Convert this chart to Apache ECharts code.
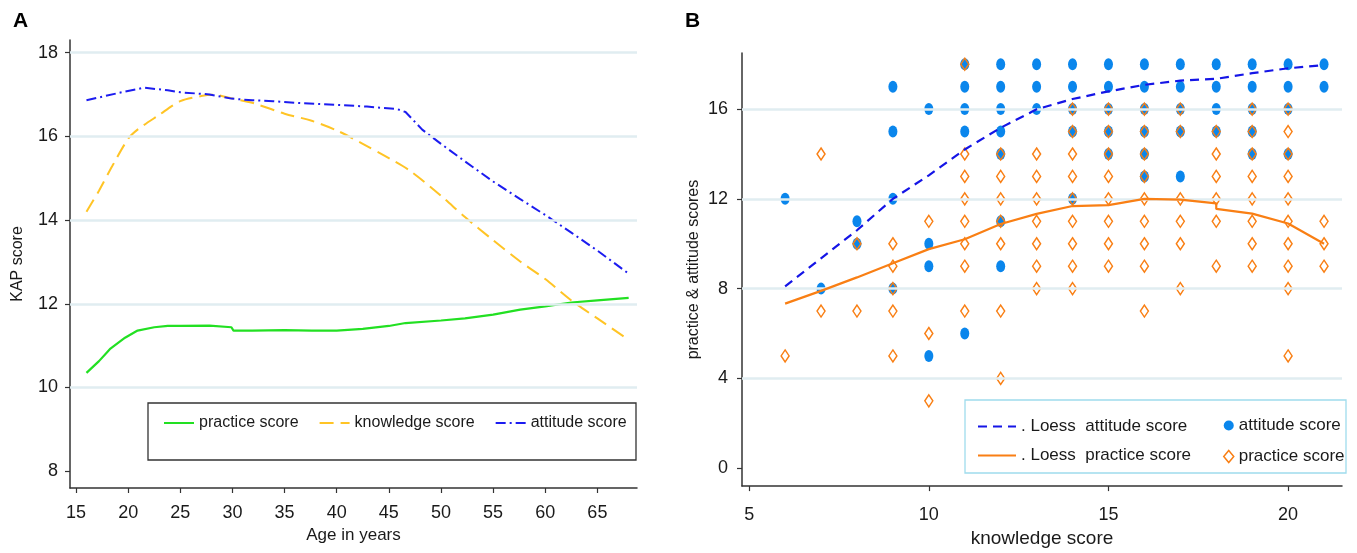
<!DOCTYPE html>
<html>
<head>
<meta charset="utf-8">
<script src="https://cdn.jsdelivr.net/npm/echarts@6/dist/echarts.min.js"></script>
<style>
  html, body { margin: 0; padding: 0; background: #fff; }
  #chart { width: 1357px; height: 553px; }
</style>
</head>
<body>
<div id="chart"></div>
<script>
// ---- Panel A: KAP score by age ----
const practiceAge = [16, 17.2, 18, 18.3, 19.7, 20.9, 22.5, 23.8, 25, 27.8, 29.9, 30.1, 31.9, 35, 37.6, 40, 42.5, 45, 46.6, 50, 52.3, 55, 57.6, 60, 62.5, 65, 68];
const practiceKAP = [10.35, 10.63, 10.85, 10.93, 11.19, 11.36, 11.44, 11.47, 11.47, 11.48, 11.44, 11.36, 11.36, 11.37, 11.36, 11.36, 11.4, 11.47, 11.54, 11.6, 11.65, 11.74, 11.86, 11.94, 12.03, 12.08, 12.14];
const knowledgeAge = [16, 17.2, 18.5, 20, 20.9, 22.9, 25, 27, 28.2, 30, 31.9, 35, 37.6, 40, 42.5, 45, 47, 50, 52.3, 55, 57.6, 60, 62.5, 65, 68];
const knowledgeKAP = [14.2, 14.7, 15.3, 15.94, 16.16, 16.5, 16.84, 16.96, 16.99, 16.9, 16.8, 16.54, 16.37, 16.14, 15.82, 15.48, 15.18, 14.58, 14.07, 13.52, 13.01, 12.59, 12.08, 11.65, 11.14];
const attitudeAge = [16, 19.7, 21.5, 23.8, 25, 27.8, 29.9, 31.9, 33.9, 36, 40, 42.9, 45.8, 46.6, 48.2, 50, 52.3, 55, 57.6, 60, 62.5, 65, 68];
const attitudeKAP = [16.86, 17.07, 17.16, 17.1, 17.05, 17.0, 16.9, 16.86, 16.84, 16.8, 16.75, 16.71, 16.65, 16.58, 16.16, 15.82, 15.4, 14.92, 14.5, 14.12, 13.7, 13.27, 12.72];
const ageTicks = [15, 20, 25, 30, 35, 40, 45, 50, 55, 60, 65];
const kapTicks = [8, 10, 12, 14, 16, 18];
const kapGrid = [10, 12, 14, 16, 18];

// ---- Panel B: practice & attitude vs knowledge ----
const loessX = [6, 7, 8, 9, 10, 11, 12, 13, 14, 15, 16, 17, 18, 19, 20, 21];
const loessAttitude = [8.1, 9.35, 10.6, 12.0, 13.05, 14.2, 15.17, 15.99, 16.45, 16.79, 17.08, 17.27, 17.35, 17.6, 17.82, 17.96];
const loessPracticeX = [6, 7, 8, 9, 10, 11, 12, 13, 14, 15, 16, 17, 18, 18, 19, 20, 21];
const loessPractice = [7.33, 7.9, 8.5, 9.13, 9.76, 10.2, 10.88, 11.33, 11.68, 11.72, 12.0, 11.97, 11.8, 11.55, 11.34, 10.9, 10.0];
// knowledge score -> observed scores at that knowledge score
const knowledgeCols = [6, 7, 8, 9, 10, 11, 12, 13, 14, 15, 16, 17, 18, 19, 20, 21];
const attitudeObs = [
  [12], [8], [11, 10], [17, 15, 12, 8], [16, 10, 9, 5], [18, 17, 16, 15, 6],
  [18, 17, 16, 15, 14, 11, 9], [18, 17, 16], [18, 17, 16, 15, 12], [18, 17, 16, 15, 14],
  [18, 17, 16, 15, 14, 13], [18, 17, 16, 15, 13], [18, 17, 16, 15], [18, 17, 16, 15, 14],
  [18, 17, 16, 14], [18, 17]
];
const practiceObs = [
  [5], [14, 7], [10, 7], [10, 9, 8, 7, 5], [11, 6, 3], [18, 14, 13, 12, 11, 10, 9, 7],
  [14, 13, 12, 11, 10, 7, 4], [14, 13, 12, 11, 10, 9, 8], [16, 15, 14, 13, 12, 11, 10, 9, 8],
  [16, 15, 14, 13, 12, 11, 10, 9], [16, 15, 14, 13, 12, 11, 10, 9, 7], [16, 15, 12, 11, 10, 8],
  [15, 14, 13, 12, 11, 9], [16, 15, 14, 13, 12, 11, 10, 9], [16, 15, 14, 13, 12, 11, 10, 9, 8, 5],
  [11, 10, 9]
];
const knowTicks = [5, 10, 15, 20];
const scoreTicks = [0, 4, 8, 12, 16];
const scoreGrid = [4, 8, 12, 16];

const pairs = (xs, ys) => xs.map((x, i) => [x, ys[i]]);
const flatten = (cols, obs) => cols.flatMap((x, i) => obs[i].map(v => [x, v]));

const SANS = '"Liberation Sans", Arial, sans-serif';
const ELLIPSE = 'path://M5,0 A5,5 0 1,1 5,10 A5,5 0 1,1 5,0 Z';
const C_GREEN = '#22e022', C_YELLOW = '#ffc425', C_BLUE = '#1c1cf0';
const C_DOT = '#0a86ec', C_ORANGE = '#f97f14';

function axisCommon(ticks, margin) {
  return {
    type: 'value',
    axisLine: { show: true, onZero: false, lineStyle: { color: '#333', width: 1.5 } },
    axisTick: { show: true, customValues: ticks, length: 5, lineStyle: { color: '#333', width: 1.2 } },
    axisLabel: { customValues: ticks, color: '#1a1a1a', fontSize: 18, fontFamily: SANS, margin: margin },
    splitLine: { show: false }
  };
}

function gridSeries(xi, vals) {
  return {
    type: 'line', xAxisIndex: xi, yAxisIndex: xi, data: [], z: 1, silent: true,
    markLine: {
      silent: true, symbol: 'none', label: { show: false }, animation: false,
      lineStyle: { color: '#e0edf1', width: 2.5, type: 'solid' },
      data: vals.map(v => ({ yAxis: v }))
    }
  };
}

const chart = echarts.init(document.getElementById('chart'), null, { renderer: 'canvas' });

const option = {
  animation: false,
  backgroundColor: '#fff',
  title: [
    { text: 'A', left: 8, top: 6, textStyle: { fontSize: 21, fontWeight: 'bold', color: '#000', fontFamily: SANS } },
    { text: 'B', left: 680, top: 6, textStyle: { fontSize: 21, fontWeight: 'bold', color: '#000', fontFamily: SANS } }
  ],
  grid: [
    { left: 70, right: 720, top: 40, bottom: 65 },
    { left: 742, right: 15, top: 53, bottom: 66 }
  ],
  xAxis: [
    Object.assign(axisCommon(ageTicks, 16), {
      gridIndex: 0, min: 14.42, max: 68.8,
      name: 'Age in years', nameLocation: 'middle', nameGap: 38,
      nameTextStyle: { fontSize: 17, fontFamily: SANS, color: '#1a1a1a' }
    }),
    Object.assign(axisCommon(knowTicks, 20), {
      gridIndex: 1, min: 4.8, max: 21.5,
      name: 'knowledge score', nameLocation: 'middle', nameGap: 42,
      nameTextStyle: { fontSize: 19, fontFamily: SANS, color: '#1a1a1a' }
    })
  ],
  yAxis: [
    Object.assign(axisCommon(kapTicks, 12), {
      gridIndex: 0, min: 7.6, max: 18.3,
      name: 'KAP score', nameLocation: 'middle', nameGap: 44,
      nameTextStyle: { fontSize: 16, fontFamily: SANS, color: '#1a1a1a' }
    }),
    Object.assign(axisCommon(scoreTicks, 14), {
      gridIndex: 1, min: -0.8, max: 18.5,
      name: 'practice & attitude scores', nameLocation: 'middle', nameGap: 40,
      nameTextStyle: { fontSize: 16, fontFamily: SANS, color: '#1a1a1a' }
    })
  ],
  legend: [
    {
      left: 158, top: 410, orient: 'horizontal', itemGap: 20, itemWidth: 30, itemHeight: 14,
      itemStyle: { opacity: 0 },
      textStyle: { fontSize: 16, fontFamily: SANS, color: '#1a1a1a' },
      data: ['practice score', 'knowledge score', 'attitude score']
    },
    {
      left: 972, top: 413, orient: 'vertical', itemGap: 12, itemWidth: 38, itemHeight: 14,
      itemStyle: { opacity: 0 },
      textStyle: { fontSize: 17, fontFamily: SANS, color: '#1a1a1a' },
      data: ['. Loess  attitude score', '. Loess  practice score']
    },
    {
      left: 1218, top: 412, orient: 'vertical', itemGap: 14, itemWidth: 10, itemHeight: 12,
      textStyle: { fontSize: 17, fontFamily: SANS, color: '#1a1a1a' },
      formatter: n => n.replace(' (B)', ''),
      data: [
        { name: 'attitude score (B)', itemStyle: { color: C_DOT } },
        { name: 'practice score (B)', itemStyle: { color: 'rgba(0,0,0,0)', borderColor: C_ORANGE, borderWidth: 1.5 } }
      ]
    }
  ],
  graphic: [
    { type: 'rect', shape: { x: 148, y: 403, width: 488, height: 57 }, style: { fill: 'none', stroke: '#333', lineWidth: 1.3 }, z: 0 },
    { type: 'rect', shape: { x: 965, y: 400, width: 381, height: 73 }, style: { fill: '#fff', stroke: '#9fdced', lineWidth: 1.3 }, z: 0 }
  ],
  series: [
    gridSeries(0, kapGrid),
    gridSeries(1, scoreGrid),
    {
      name: 'practice score', type: 'line', xAxisIndex: 0, yAxisIndex: 0, symbol: 'none', z: 3,
      data: pairs(practiceAge, practiceKAP),
      lineStyle: { color: C_GREEN, width: 2.2 }, itemStyle: { color: C_GREEN }
    },
    {
      name: 'knowledge score', type: 'line', xAxisIndex: 0, yAxisIndex: 0, symbol: 'none', smooth: 0.3, z: 3,
      data: pairs(knowledgeAge, knowledgeKAP),
      lineStyle: { color: C_YELLOW, width: 2, type: [14, 7] }, itemStyle: { color: C_YELLOW }
    },
    {
      name: 'attitude score', type: 'line', xAxisIndex: 0, yAxisIndex: 0, symbol: 'none', z: 3,
      data: pairs(attitudeAge, attitudeKAP),
      lineStyle: { color: C_BLUE, width: 2, type: [10, 4, 2, 4] }, itemStyle: { color: C_BLUE }
    },
    {
      name: 'attitude score (B)', type: 'scatter', xAxisIndex: 1, yAxisIndex: 1, z: 3,
      symbol: ELLIPSE, symbolSize: [9, 12],
      data: flatten(knowledgeCols, attitudeObs),
      itemStyle: { color: C_DOT, opacity: 1 }
    },
    {
      name: 'practice score (B)', type: 'scatter', xAxisIndex: 1, yAxisIndex: 1, z: 4,
      symbol: 'diamond', symbolSize: [8, 12],
      data: flatten(knowledgeCols, practiceObs),
      itemStyle: { color: 'rgba(0,0,0,0)', borderColor: C_ORANGE, borderWidth: 1.5, opacity: 1 }
    },
    {
      name: '. Loess  attitude score', type: 'line', xAxisIndex: 1, yAxisIndex: 1, symbol: 'none', z: 5,
      data: pairs(loessX, loessAttitude),
      lineStyle: { color: '#1515e6', width: 2.2, type: [9, 6] }, itemStyle: { color: '#1515e6' }
    },
    {
      name: '. Loess  practice score', type: 'line', xAxisIndex: 1, yAxisIndex: 1, symbol: 'none', z: 5,
      data: pairs(loessPracticeX, loessPractice),
      lineStyle: { color: C_ORANGE, width: 2.2 }, itemStyle: { color: C_ORANGE }
    }
  ]
};

chart.setOption(option);
</script>
</body>
</html>
